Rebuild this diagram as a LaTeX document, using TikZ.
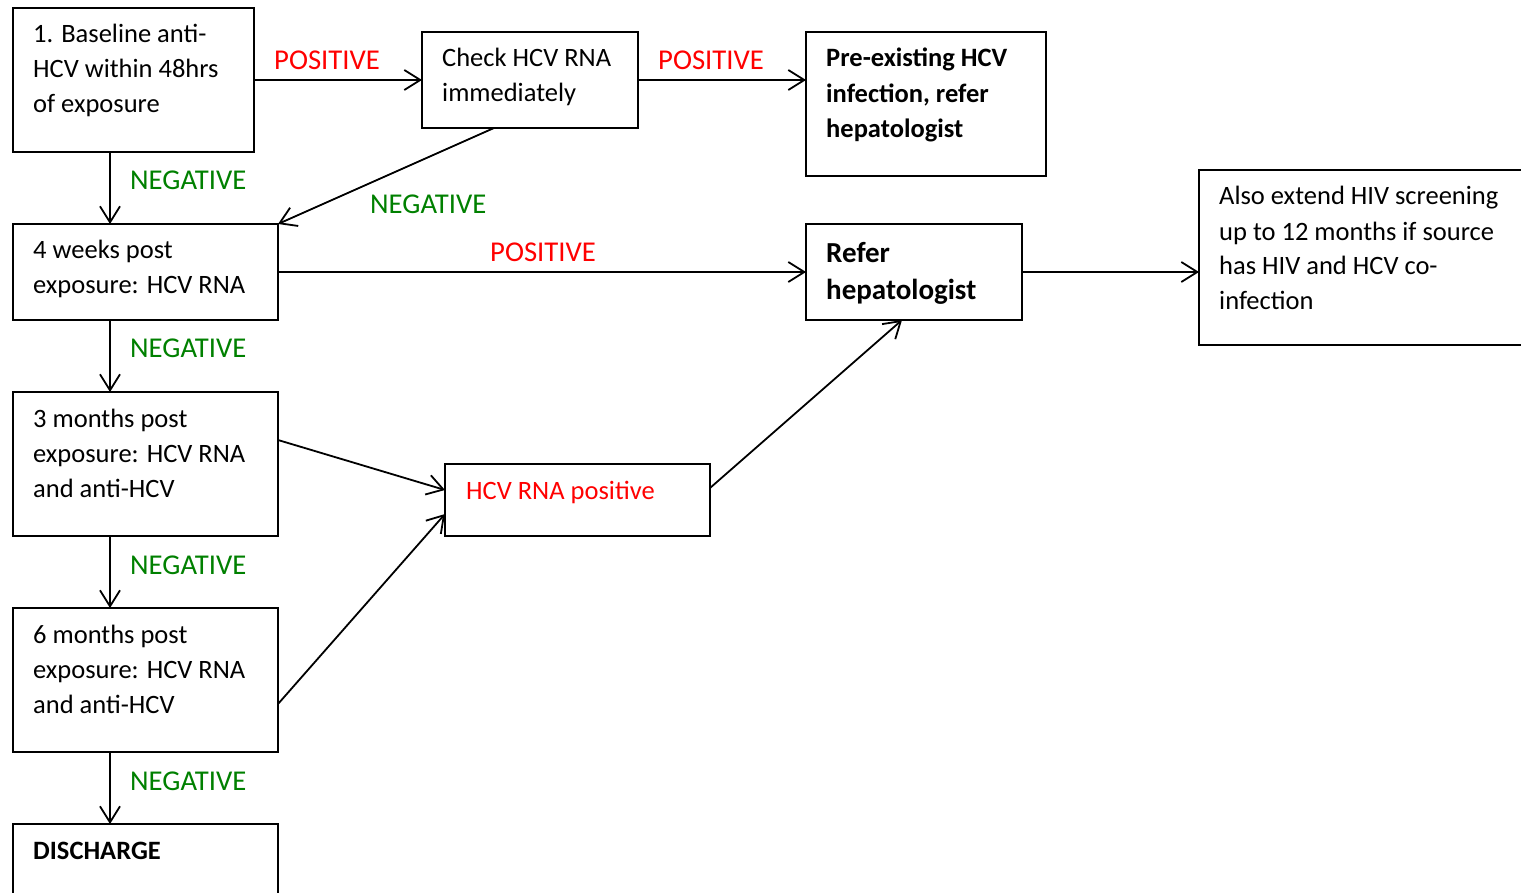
\documentclass[tikz,border=0pt]{standalone}
\usepackage{fontspec}
\setmainfont{Carlito}
\usetikzlibrary{arrows.meta,calc}
\definecolor{posred}{RGB}{255,0,0}
\definecolor{neggreen}{RGB}{0,128,0}
\tikzset{
  box/.style={draw, line width=1.8pt, anchor=north west, inner sep=0pt, outer sep=0pt},
  txt/.style={anchor=base west, inner sep=0pt, align=left, font=\fontsize{26.5}{35}\selectfont},
  btxt/.style={txt, font=\fontsize{26.5}{35.5}\selectfont\bfseries},
  bigtxt/.style={anchor=base west, inner sep=0pt, align=left, font=\fontsize{29}{37}\selectfont\bfseries},
  poslbl/.style={anchor=base west, inner sep=0pt, text=posred, font=\fontsize{28.7}{34}\selectfont},
  neglbl/.style={anchor=base west, inner sep=0pt, text=neggreen, font=\fontsize{28.7}{34}\selectfont},
  arr/.style={line width=1.8pt, -{Straight Barb[length=16pt,width=20pt,line width=1.8pt]}}
}
\begin{document}
\begin{tikzpicture}[x=1pt,y=-1pt]
\useasboundingbox (0,0) rectangle (1521,893);
\clip (0,0) rectangle (1521,893);
% boxes
\node[box, minimum width=241pt, minimum height=144pt] (b1) at (13,8) {};
\node[box, minimum width=216pt, minimum height=96pt] (chk) at (422,32) {};
\node[box, minimum width=240pt, minimum height=144pt] (pre) at (806,32) {};
\node[box, minimum width=265pt, minimum height=96pt] (w4) at (13,224) {};
\node[box, minimum width=216pt, minimum height=96pt] (ref) at (806,224) {};
\node[box, minimum width=340pt, minimum height=175pt] (also) at (1199,170) {};
\node[box, minimum width=265pt, minimum height=144pt] (m3) at (13,392) {};
\node[box, minimum width=265pt, minimum height=72pt] (pos) at (445,464) {};
\node[box, minimum width=265pt, minimum height=144pt] (m6) at (13,608) {};
\node[box, minimum width=265pt, minimum height=90pt] (dis) at (13,824) {};
% texts (anchor = baseline of the last line)
\node[txt] (t1) at (33,113) {1. Baseline anti-\\HCV within 48hrs\\of exposure};
\node[txt] (tchk) at (442,102) {Check HCV RNA\\immediately};
\node[btxt] (tpre) at (826,138) {Pre-existing HCV\\infection, refer\\hepatologist};
\node[txt] (tw4) at (33,294) {4 weeks post\\exposure: HCV RNA};
\node[bigtxt] (tref) at (826,300) {Refer\\hepatologist};
\node[txt] (talso) at (1219,310) {Also extend HIV screening\\up to 12 months if source\\has HIV and HCV co-\\infection};
\node[txt] (tm3) at (33,497) {3 months post\\exposure: HCV RNA\\and anti-HCV};
\node[txt, text=posred] (tpos) at (466,499) {HCV RNA positive};
\node[txt] (tm6) at (33,713) {6 months post\\exposure: HCV RNA\\and anti-HCV};
\node[btxt] (tdis) at (33,859) {DISCHARGE};
% labels
\node[poslbl] (l1) at (274,70) {POSITIVE};
\node[poslbl] (l2) at (658,70) {POSITIVE};
\node[poslbl] (l3) at (490,262) {POSITIVE};
\node[neglbl] (n1) at (130,190) {NEGATIVE};
\node[neglbl] (n2) at (370,214) {NEGATIVE};
\node[neglbl] (n3) at (130,358) {NEGATIVE};
\node[neglbl] (n4) at (130,574) {NEGATIVE};
\node[neglbl] (n5) at (130,790) {NEGATIVE};
% connectors
\draw[arr] (b1.east) -- (b1.east -| chk.west);
\draw[arr] (chk.east) -- (chk.east -| pre.west);
\draw[arr] ([xshift=97pt]b1.south west) -- ([xshift=97pt]w4.north west);
\draw[arr] ([xshift=72pt]chk.south west) -- (w4.north east);
\draw[arr] (w4.east) -- (ref.west);
\draw[arr] (ref.east) -- (ref.east -| also.west);
\draw[arr] ([xshift=97pt]w4.south west) -- ([xshift=97pt]m3.north west);
\draw[arr] ([yshift=24pt]m3.east) -- ([yshift=10pt]pos.west);
\draw[arr] ([xshift=97pt]m3.south west) -- ([xshift=97pt]m6.north west);
\draw[arr] ([yshift=-24pt]m6.east) -- ([yshift=-14pt]pos.west);
\draw[arr] ([yshift=12pt]pos.east) -- ([xshift=96pt]ref.south west);
\draw[arr] ([xshift=97pt]m6.south west) -- ([xshift=97pt]dis.north west);
\end{tikzpicture}
\end{document}
